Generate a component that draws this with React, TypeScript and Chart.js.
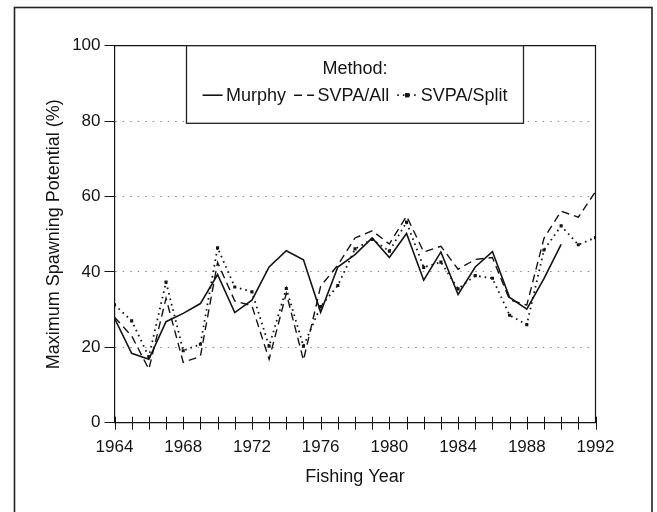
import React, { useEffect, useRef } from "react";
import { Chart, registerables } from "chart.js";

Chart.register(...registerables);

const years = [
  1964, 1965, 1966, 1967, 1968, 1969, 1970, 1971, 1972, 1973, 1974, 1975, 1976, 1977, 1978,
  1979, 1980, 1981, 1982, 1983, 1984, 1985, 1986, 1987, 1988, 1989, 1990, 1991, 1992,
];
const murphy = [
  27.7, 18.4, 16.8, 26.8, 29.0, 31.6, 39.3, 29.2, 32.5, 41.3, 45.6, 43.2, 29.3, 41.3, 44.6,
  49.0, 43.8, 50.2, 37.8, 45.3, 34.0, 41.3, 45.4, 33.2, 30.1, 38.2, 47.3, null, null,
];
const svpaAll = [
  28.0, 23.0, 14.2, 33.0, 16.0, 17.6, 42.5, 32.3, 31.0, 16.8, 34.3, 16.6, 36.2, 41.8, 49.0,
  50.9, 47.4, 54.8, 45.3, 46.8, 40.7, 43.3, 43.8, 32.6, 31.2, 48.9, 56.1, 54.5, 61.3,
];
const svpaSplit = [
  31.3, 27.0, 17.5, 37.3, 19.1, 20.8, 46.4, 36.0, 34.7, 20.3, 35.6, 20.3, 30.8, 36.4, 46.1,
  48.6, 45.5, 53.2, 41.2, 42.6, 35.5, 39.0, 38.3, 28.5, 26.0, 45.8, 52.2, 47.2, 49.1,
];
const xTickLabels = [1964, 1968, 1972, 1976, 1980, 1984, 1988, 1992];
const yTickValues = [0, 20, 40, 60, 80, 100];
const seriesNames = ["Murphy", "SVPA/All", "SVPA/Split"];
const legendTitle = "Method:";
const xTitle = "Fishing Year";
const yTitle = "Maximum Spawning Potential (%)";

const FONT = "'Liberation Sans', Arial, Helvetica, sans-serif";
const INK = "#141414";
const DASH_ALL = [8, 5];
const DASH_SPLIT = [1.6, 4];

const toPoints = (vals: (number | null)[]) =>
  years.map((x, i) => ({ x, y: vals[i] }));

const framePlugin = {
  id: "frame",
  beforeDraw(chart: any) {
    const ctx = chart.ctx;
    ctx.save();
    ctx.fillStyle = "#fff";
    ctx.fillRect(0, 0, chart.width, chart.height);
    ctx.strokeStyle = "#222";
    ctx.lineWidth = 1.6;
    ctx.strokeRect(14.5, 7.5, 637.5, chart.height + 40);
    ctx.restore();
  },
  afterDraw(chart: any) {
    const ctx = chart.ctx;
    const a = chart.chartArea;
    const xs = chart.scales.x;
    ctx.save();
    ctx.strokeStyle = INK;
    ctx.lineWidth = 1.2;
    ctx.setLineDash([]);
    // top and right frame
    ctx.beginPath();
    ctx.moveTo(a.left, a.top);
    ctx.lineTo(a.right, a.top);
    ctx.lineTo(a.right, a.bottom);
    ctx.stroke();
    // crossing ticks every year
    ctx.lineWidth = 1;
    ctx.beginPath();
    for (const yr of years) {
      const px = Math.round(xs.getPixelForValue(yr)) + 0.5;
      ctx.moveTo(px, a.bottom - 6);
      ctx.lineTo(px, a.bottom + 7);
    }
    ctx.stroke();

    // legend box
    const cx = (a.left + a.right) / 2;
    const bw = 337;
    const bh = 77.6;
    const bx = cx - bw / 2;
    const by = a.top;
    ctx.fillStyle = "#fff";
    ctx.fillRect(bx, by, bw, bh);
    ctx.strokeStyle = "#222";
    ctx.lineWidth = 1.3;
    ctx.strokeRect(bx, by, bw, bh);

    ctx.fillStyle = INK;
    ctx.font = `18px ${FONT}`;
    ctx.textBaseline = "middle";
    ctx.textAlign = "center";
    ctx.fillText(legendTitle, cx, by + 23.5);

    const rowY = by + 50.5;
    const sampleLen = 20;
    const gapAfterSample = 3.5;
    const gapBetween = 8;
    const widths = seriesNames.map((n) => ctx.measureText(n).width);
    const total =
      seriesNames.length * (sampleLen + gapAfterSample) +
      widths.reduce((s, w) => s + w, 0) +
      gapBetween * (seriesNames.length - 1);
    let x = cx - total / 2;
    ctx.textAlign = "left";
    seriesNames.forEach((name, i) => {
      const ds = chart.data.datasets[i];
      ctx.save();
      ctx.strokeStyle = ds.borderColor;
      ctx.lineWidth = ds.borderWidth;
      ctx.setLineDash(ds.borderDash || []);
      ctx.beginPath();
      ctx.moveTo(x, rowY - 1);
      ctx.lineTo(x + sampleLen, rowY - 1);
      ctx.stroke();
      if (ds.pointRadius > 0) {
        const r = ds.pointRadius;
        ctx.fillStyle = ds.pointBackgroundColor;
        ctx.fillRect(x + sampleLen / 2 - r, rowY - 1 - r, 2 * r, 2 * r);
      }
      ctx.restore();
      x += sampleLen + gapAfterSample;
      ctx.fillStyle = INK;
      ctx.fillText(name, x, rowY);
      x += widths[i] + gapBetween;
    });
    ctx.restore();
  },
};

export default function App() {
  const ref = useRef<HTMLCanvasElement | null>(null);

  useEffect(() => {
    if (!ref.current) return;
    Chart.defaults.font.family = FONT;
    Chart.defaults.color = INK;
    const chart = new Chart(ref.current, {
      type: "line",
      data: {
        datasets: [
          {
            label: seriesNames[0],
            data: toPoints(murphy),
            borderColor: INK,
            borderWidth: 1.6,
            pointRadius: 0,
            spanGaps: false,
            tension: 0,
          },
          {
            label: seriesNames[1],
            data: toPoints(svpaAll),
            borderColor: INK,
            borderWidth: 1.4,
            borderDash: DASH_ALL,
            pointRadius: 0,
            tension: 0,
          },
          {
            label: seriesNames[2],
            data: toPoints(svpaSplit),
            borderColor: INK,
            borderWidth: 1.8,
            borderDash: DASH_SPLIT,
            pointRadius: 2.2,
            pointStyle: "rect",
            pointBackgroundColor: INK,
            pointBorderWidth: 0,
            tension: 0,
          },
        ] as any,
      },
      options: {
        animation: false,
        responsive: false,
        events: [],
        layout: { padding: { left: 0, top: 45.7, right: 61.5, bottom: 0 } },
        plugins: {
          legend: { display: false },
          tooltip: { enabled: false },
        },
        scales: {
          x: {
            type: "linear",
            min: 1964,
            max: 1992,
            afterBuildTicks: (s: any) => {
              s.ticks = xTickLabels.map((v) => ({ value: v }));
            },
            afterFit: (s: any) => {
              s.height = 89.3;
            },
            ticks: {
              padding: 14.6,
              color: INK,
              font: { size: 17 },
              callback: (v: any) => String(v),
              maxRotation: 0,
            },
            grid: { display: false, drawTicks: false },
            border: { display: true, color: INK, width: 1.2 },
            title: {
              display: true,
              text: xTitle,
              color: INK,
              font: { size: 18 },
              padding: { top: 0, bottom: 24.2 },
            },
          },
          y: {
            type: "linear",
            min: 0,
            max: 100,
            afterBuildTicks: (s: any) => {
              s.ticks = yTickValues.map((v) => ({ value: v }));
            },
            afterFit: (s: any) => {
              s.width = 114.5;
            },
            ticks: {
              padding: 4,
              color: INK,
              font: { size: 17 },
            },
            grid: {
              display: true,
              drawTicks: true,
              tickLength: 10,
              tickColor: INK,
              tickWidth: 1,
              lineWidth: 1,
              color: (c: any) =>
                c.tick && (c.tick.value === 0 || c.tick.value === 100)
                  ? "rgba(0,0,0,0)"
                  : "#8a8a8a",
            },
            border: { display: true, color: INK, width: 1.2, dash: [1.5, 6] },
            title: {
              display: true,
              text: yTitle,
              color: INK,
              font: { size: 18 },
              padding: { top: 43.2, bottom: 0 },
            },
          },
        },
      },
      plugins: [framePlugin],
    });
    return () => chart.destroy();
  }, []);

  return (
    <div style={{ position: "fixed", left: 0, top: 0, width: 657, height: 512 }}>
      <canvas ref={ref} width={657} height={512} style={{ width: 657, height: 512, display: "block" }} />
    </div>
  );
}
